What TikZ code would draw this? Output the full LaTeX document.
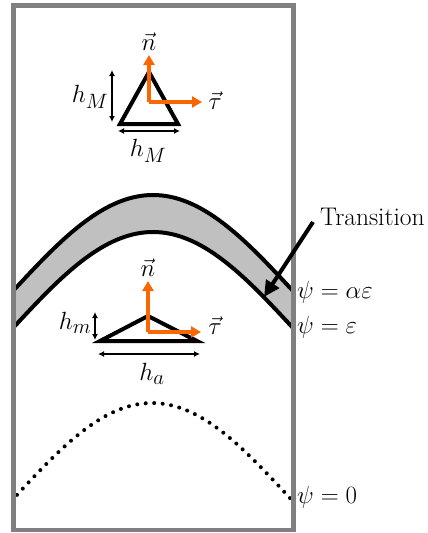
\documentclass[tikz,border=0pt]{standalone}
\usetikzlibrary{arrows.meta}
\definecolor{frame}{RGB}{128,128,128}
\definecolor{band}{RGB}{192,192,192}
\definecolor{vecor}{RGB}{250,102,0}
\begin{document}
\begin{tikzpicture}[x=1pt,y=-1pt,
  lbl/.style={inner sep=0pt,font=\fontsize{28}{32}\selectfont},
  psilbl/.style={inner sep=0pt,anchor=west,font=\fontsize{30.5}{34}\selectfont},
  tri/.style={draw=black,line width=4pt,line join=miter},
  vecarrow/.style={draw=vecor,line width=3.5pt,-{Triangle[length=10pt,width=11pt]}},
  dimarrow/.style={draw=black,line width=1.4pt,{Latex[length=6pt,width=6pt]}-{Latex[length=6pt,width=6pt]}},
  curve/.style={draw=black,line width=4pt},
  bigarrow/.style={draw=black,line width=4pt,-{Triangle[length=16pt,width=15pt]}}]
\useasboundingbox (0,0) rectangle (428,533);
% band
\fill[band] plot[domain=13:293,samples=80] (\x,{195+96*(1-cos(90*(\x-153)/140))})
  -- plot[domain=293:13,samples=80] (\x,{232+96*(1-cos(90*(\x-153)/140))}) -- cycle;
\draw[curve] plot[domain=13:293,samples=80] (\x,{195+96*(1-cos(90*(\x-153)/140))});
\draw[curve] plot[domain=13:293,samples=80] (\x,{232+96*(1-cos(90*(\x-153)/140))});
% dotted curve
\draw[line width=4pt,line cap=round,dash pattern=on 0pt off 8.5pt]
  plot[domain=17:290,samples=80] (\x,{403+94*(1-cos(90*(\x-152)/137))});
% frame
\draw[frame,line width=4.5pt] (13.5,5.5) rectangle (293.5,530);
% top triangle
\coordinate (ta) at (149,72);
\coordinate (tl) at (120,124);
\coordinate (tr) at (178,124);
\draw[tri] (ta) -- (tl) -- (tr) -- cycle;
\coordinate (to) at (149,102);
\coordinate (tn) at (149,55);
\coordinate (tt) at (202,102);
\draw[vecarrow] (to) -- (tn);
\draw[vecarrow] (to) -- (tt);
\node[lbl] (n1) at (149,42) {$\vec{n}$};
\node[lbl] (t1) at (215,101) {$\vec{\tau}$};
\coordinate (dv1a) at (112,70);
\coordinate (dv1b) at (112,122);
\draw[dimarrow] (dv1a) -- (dv1b);
\coordinate (dh1a) at (118,131);
\coordinate (dh1b) at (180,131);
\draw[dimarrow] (dh1a) -- (dh1b);
\node[lbl] (hM1) at (90,97) {$h_M$};
\node[lbl] (hM2) at (148,151) {$h_M$};
% lower triangle
\coordinate (ba) at (148,316);
\coordinate (bl) at (100,341);
\coordinate (br) at (197,341);
\draw[tri] (ba) -- (bl) -- (br) -- cycle;
\coordinate (bo) at (148,332);
\coordinate (bn) at (148,281);
\coordinate (bt) at (201,332);
\draw[vecarrow] (bo) -- (bn);
\draw[vecarrow] (bo) -- (bt);
\node[lbl] (n2) at (148,268) {$\vec{n}$};
\node[lbl] (t2) at (215,326) {$\vec{\tau}$};
\coordinate (dv2a) at (95,312);
\coordinate (dv2b) at (95,340);
\draw[dimarrow] (dv2a) -- (dv2b);
\coordinate (dh2a) at (98,354);
\coordinate (dh2b) at (200,354);
\draw[dimarrow] (dh2a) -- (dh2b);
\node[lbl] (hm) at (75,323) {$h_m$};
\node[lbl] (ha) at (152,374) {$h_a$};
% labels right
\node[psilbl] (p1) at (297,292) {$\psi=\alpha\varepsilon$};
\node[psilbl] (p2) at (297,327) {$\psi=\varepsilon$};
\node[psilbl] (p0) at (297,497) {$\psi=0$};
\node[inner sep=0pt,anchor=west,font=\fontsize{25.5}{29}\selectfont] (tr) at (320,217) {Transition};
\coordinate (as) at (313,222);
\coordinate (ae) at (264,297);
\draw[bigarrow] (as) -- (ae);
\end{tikzpicture}
\end{document}
